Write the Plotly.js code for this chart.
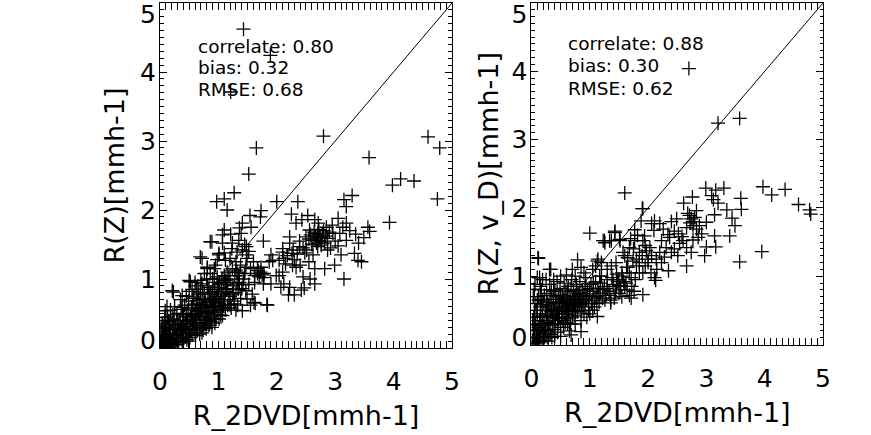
<!DOCTYPE html>
<html>
<head>
<meta charset="utf-8">
<script src="https://cdn.plot.ly/plotly-3.0.1.min.js"></script>
<style>html,body{margin:0;padding:0;background:#fff;}#chart{width:871px;height:435px;}</style>
</head>
<body>
<div id="chart"></div>
<script>
// Left panel: R_2DVD vs R(Z)
const leftPairs = [
[1.43,4.62],[1.89,4.24],[1.21,3.71],
[1.65,2.90],[2.80,3.07],[1.52,2.52],[3.58,2.76],[4.59,3.06],[4.79,2.90],[3.98,2.36],[4.12,2.45],[4.35,2.42],[4.75,2.16],[3.93,1.82],
[1.27,2.25],[0.97,2.12],[1.10,2.16],[1.15,2.00],[2.00,2.12],[2.36,2.12],[3.15,2.15],[3.29,2.21],[3.19,2.05],
[1.73,1.99],[1.54,1.92],[1.72,1.90],[2.25,1.94],[2.53,1.92],[2.43,1.86],[2.33,1.81],[2.65,1.86],[2.71,1.81],[3.05,1.88],[3.19,1.81],[3.56,1.75],[3.59,1.69],[3.49,1.60],
[1.41,1.81],[1.36,1.74],[1.56,1.75],[1.10,1.71],[1.07,1.64],[1.21,1.65],[0.89,1.54],[1.39,1.66],[1.35,1.56],[1.77,1.55],[1.23,1.44],[1.41,1.42],[1.01,1.35],[1.49,1.30],[0.72,1.30],
[2.22,1.61],[2.22,1.52],[2.10,1.44],[2.26,1.37],[2.39,1.47],[2.39,1.55],[2.50,1.61],[2.56,1.71],[2.62,1.56],[2.70,1.66],[2.72,1.56],[2.76,1.49],[2.70,1.47],[2.82,1.52],[2.87,1.59],[2.85,1.75],[2.96,1.66],[3.08,1.66],[3.13,1.75],[3.19,1.56],[2.51,1.42],[2.62,1.35],[2.87,1.42],[3.10,1.35],[3.33,1.37],[3.39,1.27],[3.45,1.25],[2.99,1.20],[2.82,1.15],[2.65,1.15],[2.45,1.03],[2.65,0.93],[3.15,1.00],[2.33,1.17],[2.10,1.39],[2.04,1.27],[2.04,1.05],[1.99,1.05],[1.90,1.35],[1.87,1.25],[1.93,1.27],[1.73,1.17],[1.67,1.08],[1.70,1.03],[1.62,1.05],[1.77,0.93],[1.90,0.93],[2.07,0.88],[2.22,0.88],[1.30,1.13],[1.35,1.05],[1.13,0.95],[1.01,0.93],[0.81,1.17],[0.93,1.15],[0.76,1.08],
[2.66,1.62],[2.74,1.60],[2.78,1.64],[2.68,1.52],[2.80,1.70],[2.58,1.64],[2.64,1.68],[2.76,1.54],[2.60,1.50],[2.72,1.72],[2.84,1.62],[2.90,1.68],[2.55,1.58],
[1.72,1.10],[1.75,1.06],[1.68,1.12],[1.78,1.02],[1.45,1.50],[1.48,1.47],[2.12,1.30],[2.18,1.34],[2.28,1.42],[2.15,1.22],[2.30,1.28],[2.35,1.36],[2.45,1.45],[2.48,1.38],
[2.40,1.20],[2.55,1.25],[2.92,1.45],[3.00,1.55],[3.05,1.48],[2.95,1.78],[3.25,1.70],[3.35,1.65],[3.40,1.52],[2.57,1.00],[2.30,0.77],[2.20,0.77],[1.83,0.63],[1.63,0.65],[2.47,0.87],
[0.86,1.54],[1.07,1.52],[1.24,1.52],[0.69,1.32],[1.01,1.37],[1.12,1.27],[1.32,1.39],[1.48,1.35],[0.81,1.15],[0.95,1.20],[0.86,1.08],[0.52,0.96],[0.72,0.93],[0.98,1.03],[1.12,0.98],[1.32,1.10],[1.35,1.05],[1.43,1.00],[1.47,0.83],[1.32,0.93],[1.24,0.78],[1.15,0.86],[1.49,0.71],[1.61,0.66],[1.84,0.62],[1.41,0.54],[0.23,0.81],[0.38,0.59],[0.09,0.54],[0.15,0.39],[0.58,0.74],[0.69,0.81],[0.64,0.69],[0.75,0.59],[0.92,0.54],[1.01,0.42],[1.07,0.47],[0.89,0.30],[0.86,0.39],[0.72,0.22],[0.61,0.18],[0.49,0.10],[1.09,0.61],[1.27,0.64],[0.95,0.66],[0.84,0.78],[1.78,1.08],[1.67,1.15],[1.47,1.17],[2.10,1.10],[2.27,1.20],[2.12,0.93],[2.42,0.84],[0.21,0.83],[0.50,0.98],[0.38,0.76],
[0.02,0.02],[0.04,0.05],[0.05,0.01],[0.06,0.10],[0.08,0.04],[0.09,0.15],[0.10,0.07],[0.11,0.22],[0.12,0.02],[0.13,0.11],[0.14,0.30],[0.15,0.06],[0.16,0.18],[0.17,0.09],[0.18,0.26],[0.19,0.03],[0.20,0.13],[0.21,0.35],[0.22,0.08],[0.23,0.20],[0.24,0.42],[0.25,0.15],[0.26,0.05],[0.27,0.28],[0.28,0.11],[0.29,0.50],[0.30,0.19],[0.31,0.33],[0.32,0.08],[0.33,0.24],[0.34,0.40],[0.35,0.14],[0.36,0.56],[0.37,0.29],[0.38,0.10],[0.39,0.45],[0.40,0.21],[0.41,0.35],[0.42,0.62],[0.43,0.16],[0.44,0.27],[0.45,0.50],[0.46,0.12],[0.47,0.39],[0.48,0.22],[0.49,0.68],[0.50,0.31],[0.51,0.15],[0.52,0.45],[0.53,0.26],[0.54,0.58],[0.55,0.19],[0.56,0.36],[0.57,0.72],[0.58,0.28],[0.59,0.48],[0.60,0.22],[0.61,0.40],[0.62,0.64],[0.63,0.32],[0.64,0.25],[0.65,0.53],[0.66,0.78],[0.67,0.37],[0.68,0.20],[0.69,0.46],[0.70,0.30],[0.71,0.62],[0.72,0.42],[0.73,0.85],[0.74,0.26],[0.75,0.52],[0.76,0.35],[0.77,0.70],[0.78,0.45],[0.79,0.28],[0.80,0.58],[0.81,0.90],[0.82,0.40],[0.83,0.50],[0.84,0.33],[0.85,0.66],[0.86,0.45],[0.87,0.80],[0.88,0.38],[0.89,0.55],[0.90,0.70],[0.92,0.48],[0.93,0.95],[0.94,0.60],[0.96,0.42],[0.97,0.75],[0.99,0.52],[1.00,0.88],[1.02,0.65],[1.04,0.48],[1.05,0.80],[1.07,0.58],[1.09,0.95],[1.10,0.70],[1.12,0.55],[1.14,0.85],[1.16,0.62],[1.18,1.05],[1.20,0.75],[1.22,0.58],[1.25,0.90],[1.27,0.68],[1.30,0.80],[1.33,0.62],[1.36,0.95],[1.38,0.72],[1.40,0.86],
[0.01,0.08],[0.03,0.14],[0.05,0.25],[0.07,0.32],[0.08,0.18],[0.10,0.40],[0.03,0.00],[0.15,0.01],[0.20,0.06],[0.06,0.00],[0.09,0.28],[0.13,0.45],[0.17,0.38],[0.02,0.30],[0.25,0.60],[0.18,0.55],[0.35,0.70],[0.12,0.60],[0.30,0.05],[0.40,0.08],[0.22,0.48],[0.45,0.75],[0.55,0.85],[0.60,0.95],[0.50,0.82],[0.65,0.90],
[0.45,0.28],[0.52,0.35],[0.58,0.40],[0.62,0.46],[0.66,0.50],[0.70,0.55],[0.74,0.62],[0.78,0.66],[0.82,0.70],[0.86,0.72],[0.90,0.78],[0.94,0.82],[0.98,0.85],[1.02,0.92],[1.06,1.00],[1.10,1.05],[1.15,1.10],[1.20,1.00],[1.24,1.15],[1.28,1.05],[0.60,0.55],[0.68,0.62],[0.76,0.78],[0.84,0.88],[0.92,0.66],[1.00,0.72],[1.08,0.78],[1.16,0.92],[0.55,0.42],[0.48,0.55],[0.40,0.48],[0.35,0.35],[0.30,0.40],[0.26,0.32],[0.22,0.28],[0.18,0.12],[0.14,0.20],[0.10,0.30],[0.06,0.18],[0.04,0.35],[0.08,0.44],[0.28,0.18],[0.38,0.25],[0.44,0.36],[0.54,0.48],[0.64,0.58],[0.72,0.70],[0.80,0.52],[0.88,0.60],[0.96,0.62],[1.04,0.68],[1.12,0.82],[1.18,0.70],[1.26,0.80],[1.34,0.85],[1.42,0.92],[1.45,1.08],[1.38,1.20],[1.30,1.25],[1.20,1.30],[1.10,1.38],[0.98,1.28],[0.90,1.00],[0.80,1.00],[0.70,0.98],[0.62,0.85],[0.56,0.62],[0.68,0.40],[0.78,0.36],[0.94,0.36],[1.06,0.55],[1.20,0.62],[1.30,0.55],[1.55,0.62],[1.58,0.78],[1.52,0.92],[1.62,0.95],[1.55,1.15],[1.60,1.25],[1.52,1.40]
];

// Right panel: R_2DVD vs R(Z, v_D)
const rightPairs = [
[2.70,4.04],[3.57,3.31],[3.20,3.24],[1.60,2.22],[1.90,1.99],[1.00,1.63],[1.43,1.66],[1.23,1.52],[1.34,1.52],[0.11,1.27],[0.31,1.10],[3.95,1.36],[3.57,1.21],[3.97,2.31],[4.12,2.19],[4.35,2.27],[4.58,2.05],[4.77,1.97],[4.79,1.91],[0.14,0.98],
[2.99,2.29],[3.16,2.26],[3.30,2.29],[3.09,2.18],[3.12,2.12],[3.20,2.07],[3.59,2.14],[3.60,1.98],[3.35,1.97],[3.44,1.85],[3.49,1.74],[3.40,1.59],[3.14,1.90],[3.14,1.59],[3.16,1.43],[2.97,1.30],[2.66,1.15],[2.35,1.08],[2.11,0.98],[2.13,0.94],[3.00,1.43],[2.76,2.16],[2.61,2.07],[2.83,1.96],[2.71,1.89],[2.49,1.84],[2.40,1.80],[3.00,1.79],[2.77,1.74],[2.66,1.71],[2.83,1.69],[2.86,1.57],[2.77,1.53],[2.60,1.52],[2.54,1.48],[2.66,1.42],[2.74,1.35],[2.51,1.30],[2.37,1.57],[2.34,1.61],[2.31,1.42],[2.23,1.52],[2.26,1.69],[2.20,1.77],[2.11,1.81],[2.06,1.77],[2.10,1.67],[1.94,1.59],[1.91,1.52],[2.03,1.42],[2.06,1.30],[2.14,1.25],[1.97,1.37],[2.23,1.20],[1.91,1.99],[1.88,1.81],[1.77,1.68],[1.77,1.52],[1.68,1.42],[1.65,1.27],[1.74,1.22],[1.80,1.15],[1.57,1.35],[1.63,1.13],[1.68,1.05],[1.71,0.98],[1.91,1.05],[1.51,1.54],[1.43,1.64],[1.25,1.52],[1.37,1.52],[1.14,1.25],[0.85,1.13],[1.05,1.10],[1.37,1.15],[1.46,1.03],[1.17,1.00],
[2.74,1.84],[2.78,1.80],[2.72,1.78],[2.80,1.86],[2.68,1.92],[2.52,1.62],[2.45,1.66],[2.58,1.58],[2.88,1.74],[2.92,1.62],[2.45,1.40],[2.40,1.35],[2.20,1.35],[2.28,1.28],[2.00,1.25],[1.85,1.35],[1.85,1.20],[1.95,1.15],
[0.12,1.26],[0.10,0.98],[0.19,0.95],[0.33,1.10],[0.79,1.24],[0.70,1.10],[1.13,1.22],[1.26,1.49],[1.52,1.52],[1.65,1.13],[1.71,0.68],[1.36,0.61],[1.13,0.41],[0.85,0.19],[0.68,0.14],[1.91,0.73],[1.53,0.86],[0.05,0.81],[0.16,0.66],
[1.30,1.10],[1.45,1.20],[1.55,1.05],[1.60,1.30],[1.75,1.40],[1.80,1.25],[1.85,1.05],[1.90,1.30],[1.95,1.45],[2.00,1.20],[1.40,0.95],[1.50,0.75],[1.62,0.90],[1.78,0.95],[2.05,1.05],[2.15,1.10],[1.70,1.55],[1.82,1.60],[1.20,1.20],[1.10,1.15],
[0.02,0.05],[0.03,0.20],[0.04,0.40],[0.05,0.10],[0.06,0.60],[0.07,0.30],[0.08,0.02],[0.09,0.15],[0.10,0.45],[0.11,0.25],[0.12,0.70],[0.13,0.08],[0.14,0.35],[0.15,0.55],[0.16,0.18],[0.17,0.80],[0.18,0.28],[0.19,0.42],[0.20,0.05],[0.21,0.62],[0.22,0.22],[0.23,0.35],[0.24,0.50],[0.25,0.12],[0.26,0.75],[0.27,0.30],[0.28,0.42],[0.29,0.20],[0.30,0.58],[0.31,0.88],[0.32,0.35],[0.33,0.15],[0.34,0.48],[0.35,0.66],[0.36,0.28],[0.37,0.40],[0.38,0.78],[0.39,0.22],[0.40,0.52],[0.41,0.35],[0.42,0.62],[0.43,0.45],[0.44,0.92],[0.45,0.30],[0.46,0.70],[0.47,0.55],[0.48,0.40],[0.49,0.82],[0.50,0.25],[0.51,0.60],[0.52,0.48],[0.53,0.72],[0.54,0.35],[0.55,0.65],[0.56,0.90],[0.57,0.45],[0.58,0.56],[0.59,0.78],[0.60,0.38],[0.61,0.68],[0.62,0.52],[0.63,0.85],[0.64,0.44],[0.65,0.62],[0.66,0.72],[0.67,0.30],[0.68,0.58],[0.69,0.95],[0.70,0.50],[0.71,0.66],[0.72,0.80],[0.73,0.42],[0.74,0.60],[0.75,0.72],[0.76,0.55],[0.77,0.88],[0.78,0.65],[0.79,0.48],[0.80,0.75],[0.82,0.58],[0.83,0.92],[0.84,0.68],[0.86,0.50],[0.87,0.80],[0.88,0.62],[0.90,0.72],[0.92,0.55],[0.93,0.98],[0.94,0.66],[0.96,0.80],[0.98,0.60],[1.00,0.72],[1.02,0.88],[1.04,0.65],[1.06,0.78],[1.08,0.55],[1.10,0.92],[1.12,0.70],[1.14,0.82],[1.16,0.62],[1.18,0.75],[1.20,1.00],[1.22,0.68],[1.25,0.85],[1.28,0.72],[1.30,0.95],[1.33,0.78],[1.36,0.65],[1.40,0.88],[1.44,0.75],[1.48,0.92],[1.52,0.80],[1.56,1.00],[1.60,0.85],
[0.01,0.01],[0.03,0.00],[0.06,0.03],[0.10,0.00],[0.04,0.12],[0.08,0.22],[0.12,0.05],[0.15,0.12],[0.02,0.35],[0.05,0.50],[0.22,0.10],[0.28,0.05],[0.35,0.10],[0.18,0.65],[0.26,0.55],[0.32,0.72],[0.40,0.80],[0.45,0.18],[0.55,0.25],[0.62,0.30],
[0.05,0.28],[0.08,0.50],[0.10,0.65],[0.13,0.22],[0.16,0.40],[0.18,0.58],[0.20,0.30],[0.22,0.72],[0.24,0.20],[0.26,0.45],[0.28,0.62],[0.30,0.32],[0.32,0.50],[0.34,0.80],[0.36,0.42],[0.38,0.60],[0.40,0.30],[0.42,0.70],[0.44,0.50],[0.46,0.38],[0.48,0.62],[0.50,0.72],[0.52,0.40],[0.54,0.55],[0.56,0.68],[0.58,0.32],[0.60,0.60],[0.62,0.78],[0.64,0.50],[0.66,0.62],[0.68,0.85],[0.70,0.40],[0.72,0.58],[0.74,0.70],[0.76,0.48],[0.78,0.80],[0.80,0.62],[0.82,0.72],[0.85,0.58],[0.88,0.75],[0.90,0.45],[0.92,0.85],[0.95,0.70],[0.98,0.50],[1.00,0.82],[1.03,0.60],[1.06,0.90],[1.09,0.68],[1.12,0.60],[1.15,0.75],[1.18,0.90],[1.22,0.80],[1.26,0.65],[1.30,0.82],[1.35,0.72],[1.38,0.98],[1.42,0.68],[1.46,0.85],[1.50,0.95],[1.55,0.70],[1.58,0.92],[1.64,0.80],[1.68,0.72],[1.72,0.85],[1.76,0.78],[0.03,0.70],[0.06,0.88],[0.15,0.85],[0.25,0.95],[0.38,0.95],[0.50,1.00],[0.60,1.02],[0.75,1.00],[0.90,1.05],[0.65,0.20],[0.75,0.30],[0.85,0.35],[0.95,0.40],[1.00,0.45],[1.05,0.50],[0.50,0.12],[0.40,0.12],[0.30,0.15],[0.20,0.15],[0.10,0.10]
];

const leftStats = ["correlate: 0.80", "bias: 0.32", "RMSE: 0.68"];
const rightStats = ["correlate: 0.88", "bias: 0.30", "RMSE: 0.62"];
const diagonal = [0, 5];
const tickVals = [0, 1, 2, 3, 4, 5];
const tickText = ["0", "1", "2", "3", "4", "5"];
const xTitle = "R_2DVD[mmh-1]";
const leftYTitle = "R(Z)[mmh-1]";
const rightYTitle = "R(Z, v_D)[mmh-1]";

// y tick labels: the end labels sit just inside the frame, as in the reference
const yLabelPos = [0.11, 1, 2, 3, 4, 4.84];

const FONT = "DejaVu Sans, sans-serif";
const marker = {symbol: 'cross-thin', size: 10, color: '#000', line: {color: '#000', width: 1.3}};

const traces = [
  {x: leftPairs.map(p => p[0]), y: leftPairs.map(p => p[1]), type: 'scatter', mode: 'markers', marker: marker, xaxis: 'x', yaxis: 'y', hoverinfo: 'skip', cliponaxis: true},
  {x: diagonal, y: diagonal, type: 'scatter', mode: 'lines', line: {color: '#000', width: 1}, xaxis: 'x', yaxis: 'y3', hoverinfo: 'skip'},
  {x: rightPairs.map(p => p[0]), y: rightPairs.map(p => p[1]), type: 'scatter', mode: 'markers', marker: marker, xaxis: 'x2', yaxis: 'y2', hoverinfo: 'skip', cliponaxis: true},
  {x: diagonal, y: diagonal, type: 'scatter', mode: 'lines', line: {color: '#000', width: 1}, xaxis: 'x2', yaxis: 'y4', hoverinfo: 'skip'}
];

function axisBase(extra) {
  return Object.assign({
    range: [0, 5], tickvals: tickVals, ticktext: tickText,
    showgrid: false, zeroline: false, showline: true, linecolor: '#000', linewidth: 1,
    mirror: 'allticks', ticks: 'inside', ticklen: 7, tickwidth: 1, tickcolor: '#000',
    minor: {dtick: 0.1, ticks: 'inside', ticklen: 3.5, tickwidth: 1, tickcolor: '#000', showgrid: false},
    tickfont: {family: FONT, size: 25, color: '#000'},
    ticklabeloverflow: 'allow'
  }, extra);
}

function labelAxis(overlay, anchor) {
  return {
    overlaying: overlay, anchor: anchor, side: 'left', range: [0, 5],
    tickmode: 'array', tickvals: yLabelPos, ticktext: tickText, ticks: '', showline: false,
    showticklabels: true, showgrid: false, zeroline: false, ticklabelstandoff: 3,
    tickfont: {family: FONT, size: 25, color: '#000'}, ticklabeloverflow: 'allow'
  };
}

function statAnnotations(lines, xref, yref, x0, ys) {
  return lines.map((t, i) => ({
    text: t, xref: xref, yref: yref, x: x0, y: ys[i], xanchor: 'left', yanchor: 'middle',
    showarrow: false, font: {family: FONT, size: 18.5, color: '#000'}
  }));
}

const layout = {
  width: 871, height: 435,
  margin: {l: 160, r: 48, t: 3, b: 87},
  paper_bgcolor: '#fff', plot_bgcolor: '#fff',
  showlegend: false,
  xaxis: axisBase({domain: [0, 0.4404], anchor: 'y', ticklabelstandoff: 11,
    title: {text: xTitle, font: {family: FONT, size: 27, color: '#000'}, standoff: 11}}),
  yaxis: axisBase({domain: [0, 1], anchor: 'x', showticklabels: false,
    title: {text: leftYTitle, font: {family: FONT, size: 27, color: '#000'}, standoff: 26}}),
  xaxis2: axisBase({domain: [0.5603, 1], anchor: 'y2', ticklabelstandoff: 11,
    title: {text: xTitle, font: {family: FONT, size: 27, color: '#000'}, standoff: 11}}),
  yaxis2: axisBase({domain: [0.0101, 1], anchor: 'x2', showticklabels: false,
    title: {text: rightYTitle, font: {family: FONT, size: 27, color: '#000'}, standoff: 24}}),
  yaxis3: labelAxis('y', 'x'),
  yaxis4: labelAxis('y2', 'x2'),
  annotations: [].concat(
    statAnnotations(leftStats, 'x', 'y', 0.61, [4.37, 4.06, 3.74]),
    statAnnotations(rightStats, 'x2', 'y2', 0.60, [4.41, 4.09, 3.75])
  )
};

Plotly.newPlot('chart', traces, layout, {staticPlot: true, displayModeBar: false});
</script>
</body>
</html>
